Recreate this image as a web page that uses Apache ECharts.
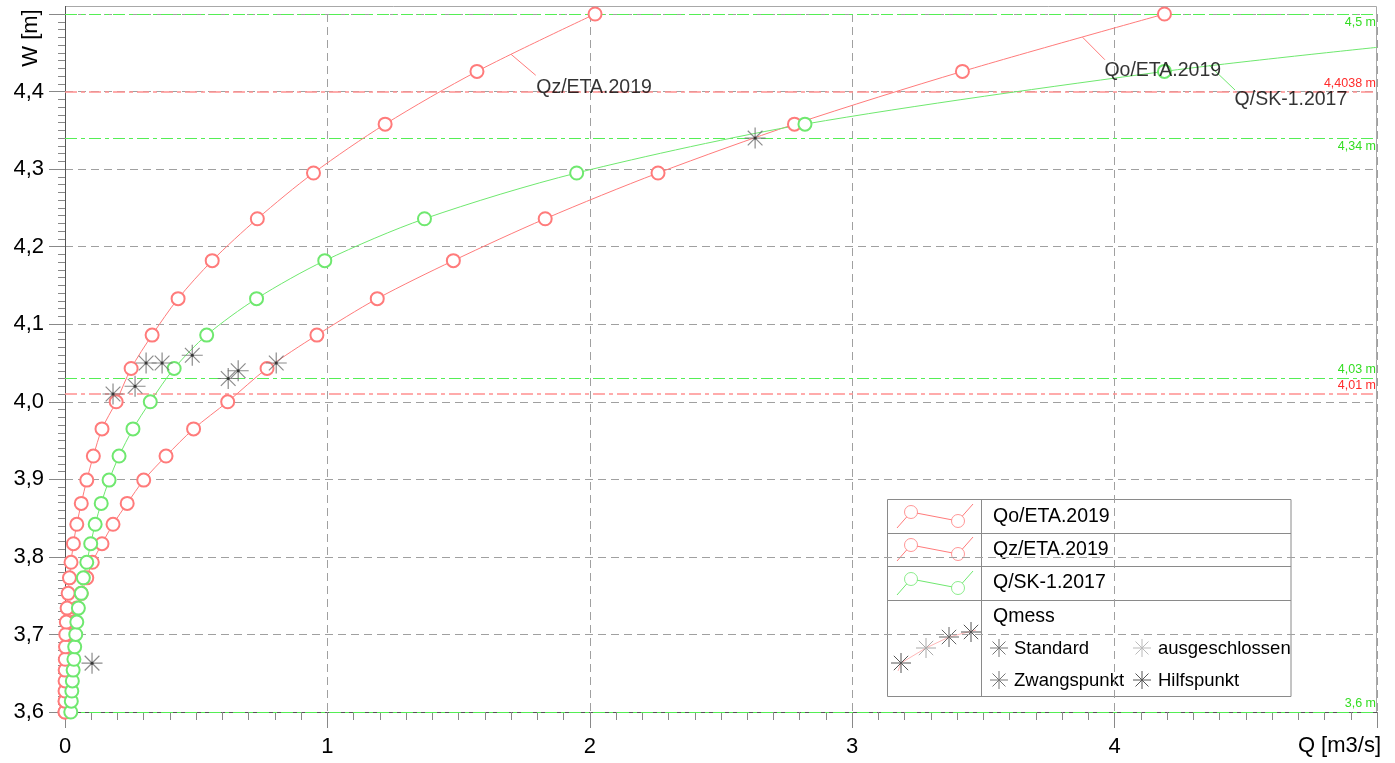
<!DOCTYPE html>
<html><head><meta charset="utf-8">
<script src="https://cdn.jsdelivr.net/npm/echarts@6/dist/echarts.min.js"></script>
<style>html,body{margin:0;padding:0;background:#fff}#c{width:1395px;height:763px}</style>
</head><body><div id="c"></div>
<script>
// ---- data ----
const wLevels = [3.600, 3.614, 3.627, 3.640, 3.654, 3.668, 3.684, 3.700, 3.716, 3.734, 3.753, 3.773, 3.793, 3.817, 3.842, 3.869, 3.899, 3.930, 3.965, 4.000, 4.043, 4.086, 4.133, 4.182, 4.236, 4.295, 4.358, 4.426, 4.500];
const qoValues = [0, 0.001, 0.002, 0.004, 0.007, 0.011, 0.017, 0.024, 0.033, 0.045, 0.062, 0.083, 0.104, 0.141, 0.183, 0.237, 0.300, 0.385, 0.490, 0.620, 0.770, 0.960, 1.190, 1.480, 1.830, 2.260, 2.780, 3.420, 4.190];
const qzValues = [0, 0.0001, 0.0002, 0.0004, 0.0007, 0.001, 0.002, 0.003, 0.005, 0.008, 0.012, 0.017, 0.023, 0.032, 0.045, 0.062, 0.083, 0.108, 0.141, 0.195, 0.252, 0.332, 0.431, 0.561, 0.733, 0.947, 1.220, 1.570, 2.020];
const qskValues = [0.022, 0.024, 0.026, 0.028, 0.031, 0.034, 0.037, 0.041, 0.045, 0.051, 0.062, 0.070, 0.083, 0.098, 0.115, 0.138, 0.168, 0.206, 0.259, 0.325, 0.416, 0.540, 0.730, 0.990, 1.370, 1.950, 2.820, 4.190];
const qskTail = [5.0, 4.457];
const qmessPoints = [[0.103, 3.663], [0.183, 4.010], [0.267, 4.020], [0.309, 4.050], [0.370, 4.050], [0.485, 4.060], [0.622, 4.030], [0.660, 4.040], [0.805, 4.050], [2.630, 4.340]];
const refLinesGreen = [4.5, 4.34, 4.03, 3.6];
const refLinesRed = [4.4038, 4.01];
const xTickLabels = [0, 1, 2, 3, 4];
const yTickLabels = [3.6, 3.7, 3.8, 3.9, 4.0, 4.1, 4.2, 4.3, 4.4];
// curve annotations (leader start on curve, leader end / label anchor), data coords
const qzLeader = [[1.700, 4.448], [1.794, 4.421]];
const qoLeader = [[3.878, 4.470], [3.963, 4.441]];
const qskLeader = [[4.360, 4.434], [4.459, 4.402]];

// ---- styles ----
const RED = '#ff7b7b', GREEN = '#6fe86f', RED_REF = '#ff9090', GREEN_REF = '#55ee55';
const RED_TXT = '#ff2a2a', GREEN_TXT = '#33dd22';
const FONT = '"Liberation Sans", Arial, sans-serif';
const STAR = 'path://M0,10L20,10M10,0L10,20M3,3L17,17M3,17L17,3';

const pairs = (qs) => qs.map((q, i) => [q, wLevels[i]]);
const fmt = (v) => String(v).replace('.', ',');

function curve(name, qs, color, extra) {
  const data = pairs(qs);
  if (extra) data.push({ value: extra, symbol: 'none' });
  return {
    name, type: 'line', data, smooth: 0.3, symbol: 'emptyCircle', symbolSize: 13,
    lineStyle: { color, width: 1 }, itemStyle: { color, borderColor: color, borderWidth: 0.8 },
    emphasis: { disabled: true }, z: 3
  };
}
function leader(pts, color) {
  return [{ type: 'line', data: pts, symbol: 'none', lineStyle: { color, width: 1 }, silent: true, z: 3 }];
}

const markLineData = [];
refLinesGreen.forEach(v => markLineData.push({
  yAxis: v, lineStyle: { color: GREEN_REF, width: 1, type: [12, 4, 4, 4] },
  label: { formatter: fmt(v) + ' m', color: GREEN_TXT, position: (v === 4.5 || v === 4.34) ? 'insideEndBottom' : 'insideEndTop' }
}));
refLinesRed.forEach(v => markLineData.push({
  yAxis: v, lineStyle: { color: RED_REF, width: 1.5, type: [12, 4, 4, 4] },
  label: { formatter: fmt(v) + ' m', color: RED_TXT, position: 'insideEndTop' }
}));

// ---- legend helpers (graphic) ----
function ln(x1, y1, x2, y2, stroke, w) { return { type: 'line', shape: { x1, y1, x2, y2 }, style: { stroke, lineWidth: w || 1 }, silent: true }; }
function star(cx, cy, r, color) {
  const d = r * 0.72;
  return { type: 'group', silent: true, children: [
    ln(cx - r, cy, cx + r, cy, color), ln(cx, cy - r, cx, cy + r, color),
    ln(cx - d, cy - d, cx + d, cy + d, color), ln(cx - d, cy + d, cx + d, cy - d, color)] };
}
function txt(x, y, text, size, fill, extra) {
  return Object.assign({ type: 'text', x, y, silent: true,
    style: { text, font: size + 'px ' + FONT, fill: fill || '#000', textVerticalAlign: 'middle', verticalAlign: 'middle' } }, extra || {});
}
function legendIcon(dy, color) {
  const p = [[897, 528 + dy], [911, 512 + dy], [958, 521 + dy], [973, 504 + dy]];
  return [
    { type: 'polyline', shape: { points: p }, style: { stroke: color, fill: null, lineWidth: 1 }, silent: true },
    { type: 'circle', shape: { cx: 911, cy: 512 + dy, r: 6.5 }, style: { stroke: color, fill: '#fff', lineWidth: 0.8 }, silent: true },
    { type: 'circle', shape: { cx: 958, cy: 521 + dy, r: 6.5 }, style: { stroke: color, fill: '#fff', lineWidth: 0.8 }, silent: true }
  ];
}
const LB = '#8a8a8a';
const graphics = [
  { type: 'polyline', shape: { points: [[65.5, 6.5], [1376.5, 6.5], [1376.5, 712]] }, style: { stroke: '#a8a8a8', fill: null, lineWidth: 1 }, silent: true },
  ln(65.5, 6, 65.5, 14, '#555'),
  txt(31, 38, 'W [m]', 22, '#000', { rotation: Math.PI / 2, style: { text: 'W [m]', font: '22px ' + FONT, fill: '#000', align: 'center', textAlign: 'center', verticalAlign: 'middle', textVerticalAlign: 'middle' } }),
  txt(1381, 746, 'Q [m3/s]', 22, '#000', { style: { text: 'Q [m3/s]', font: '22px ' + FONT, fill: '#000', align: 'right', textAlign: 'right', verticalAlign: 'middle', textVerticalAlign: 'middle' } }),
  { type: 'rect', shape: { x: 887.5, y: 499.5, width: 403.5, height: 197 }, style: { stroke: LB, fill: '#fff', lineWidth: 1 }, silent: true },
  ln(887.5, 533.5, 1291, 533.5, LB), ln(887.5, 566.5, 1291, 566.5, LB), ln(887.5, 600.5, 1291, 600.5, LB),
  ln(981.5, 499.5, 981.5, 696.5, LB),
  ...legendIcon(0, RED), ...legendIcon(33, RED), ...legendIcon(67, GREEN),
  { type: 'polyline', shape: { points: [[898, 671], [901, 663], [926, 648], [949, 637], [976, 630]] }, style: { stroke: '#ffb8b8', fill: null, lineWidth: 1 }, silent: true },
  star(901, 663, 10, '#555'), star(926, 648, 10, '#aaa'), star(949, 637, 10, '#666'), star(971, 632, 10, '#555'),
  txt(993, 517, 'Qo/ETA.2019', 19.5), txt(993, 550, 'Qz/ETA.2019', 19.5), txt(993, 583, 'Q/SK-1.2017', 19.5),
  txt(993, 617, 'Qmess', 19.5),
  star(999, 648, 9, '#777'), txt(1014, 649, 'Standard', 18.5),
  star(1142, 648, 9, '#bbb'), txt(1158, 649, 'ausgeschlossen', 18.5),
  star(999, 680, 9, '#777'), txt(1014, 681, 'Zwangspunkt', 18.5),
  star(1142, 680, 9, '#555'), txt(1158, 681, 'Hilfspunkt', 18.5)
];

const chart = echarts.init(document.getElementById('c'));
chart.setOption({
  animation: false,
  backgroundColor: '#fff',
  textStyle: { fontFamily: FONT },
  grid: { left: 65, right: 18, top: 14, bottom: 51, containLabel: false },
  xAxis: {
    type: 'value', min: 0, max: 5, interval: 1,
    axisLine: { show: true, onZero: false, lineStyle: { color: '#555' } },
    axisTick: { show: true, length: 16, lineStyle: { color: '#888' } },
    minorTick: { show: true, splitNumber: 10, length: 8, lineStyle: { color: '#888' } },
    splitLine: { show: true, lineStyle: { color: '#a0a0a0', type: [8, 5] } },
    axisLabel: { fontSize: 22, color: '#000', margin: 24, formatter: v => xTickLabels.includes(Math.round(v * 10) / 10) ? fmt(Math.round(v)) : '' }
  },
  yAxis: {
    type: 'value', min: 3.6, max: 4.5, interval: 0.1,
    axisLine: { show: true, onZero: false, lineStyle: { color: '#555' } },
    axisTick: { show: true, length: 16, lineStyle: { color: '#888' } },
    minorTick: { show: true, splitNumber: 10, length: 7, lineStyle: { color: '#888' } },
    splitLine: { show: true, lineStyle: { color: '#a0a0a0', type: [8, 5] } },
    axisLabel: { fontSize: 22, color: '#000', margin: 21, formatter: v => {
      const r = Math.round(v * 10) / 10; return yTickLabels.includes(r) ? r.toFixed(1).replace('.', ',') : ''; } }
  },
  series: [
    curve('Qo/ETA.2019', qoValues, RED),
    curve('Qz/ETA.2019', qzValues, RED),
    curve('Q/SK-1.2017', qskValues, GREEN, qskTail),
    ...leader(qzLeader, RED), ...leader(qoLeader, RED), ...leader(qskLeader, GREEN),
    {
      type: 'scatter', silent: true, symbolSize: 1, itemStyle: { color: 'transparent' }, z: 6,
      label: { show: true, formatter: '{b}', fontSize: 19.5, color: '#000', fontFamily: FONT },
      data: [
        { name: 'Qz/ETA.2019', value: qzLeader[1], label: { position: [1, 3] } },
        { name: 'Qo/ETA.2019', value: qoLeader[1], label: { position: [0, 1] } },
        { name: 'Q/SK-1.2017', value: qskLeader[1], label: { position: [0, 0] } }
      ]
    },
    {
      name: 'Qmess', type: 'scatter', data: qmessPoints, symbol: STAR, symbolSize: 21, z: 5,
      itemStyle: { color: 'transparent', borderColor: '#6e6e6e', borderWidth: 1.2 },
      emphasis: { disabled: true },
      markLine: { silent: true, symbol: 'none', label: { fontSize: 12.5, distance: [1, 2], fontFamily: FONT }, data: markLineData, z: 2 }
    },
    { type: 'scatter', data: qmessPoints, symbol: 'circle', symbolSize: 3, itemStyle: { color: '#222' }, silent: true, z: 6 }
  ],
  graphic: { elements: graphics }
});
</script></body></html>
